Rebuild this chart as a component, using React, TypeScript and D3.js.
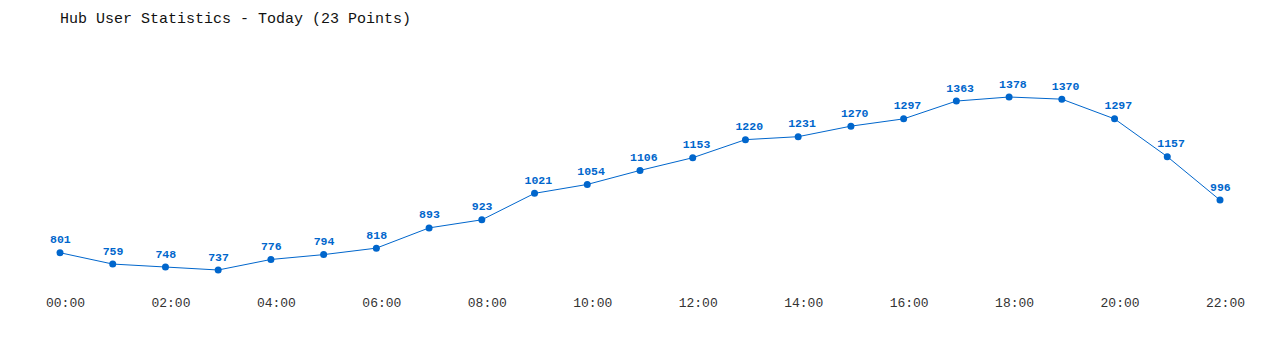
import React from "react";
import * as d3 from "d3";

const title = "Hub User Statistics - Today (23 Points)";
const hours = d3.range(0, 23);
const values = [801, 759, 748, 737, 776, 794, 818, 893, 923, 1021, 1054, 1106, 1153, 1220, 1231, 1270, 1297, 1363, 1378, 1370, 1297, 1157, 996];
const tickHours = [0, 2, 4, 6, 8, 10, 12, 14, 16, 18, 20, 22];

const W = 1280, H = 350;
const BLUE = "#0066cc";
const FONT = "'Liberation Mono', 'DejaVu Sans Mono', monospace";

export default function App() {
  const x = d3.scaleLinear().domain([0, 22]).range([60, 1220]);
  const y = d3.scaleLinear().domain([737, 1378]).range([270, 97]);
  const line = d3.line<number>().x((_, i) => x(hours[i])).y((d) => y(d));
  const fmt = (h: number) => String(h).padStart(2, "0") + ":00";
  return (
    <svg width={W} height={H} style={{ position: "absolute", left: 0, top: 0, background: "#fff" }}>
      <text x={60} y={23} fontFamily={FONT} fontSize={15} fill="#111">{title}</text>
      <path d={line(values) || ""} fill="none" stroke={BLUE} strokeWidth={1} />
      {values.map((v, i) => (
        <g key={i}>
          <circle cx={x(hours[i])} cy={y(v)} r={3.5} fill={BLUE} />
          <text x={x(hours[i]) - 10} y={y(v) - 9.5} fontFamily={FONT} fontSize={11.5} fontWeight="bold" fill={BLUE}>{v}</text>
        </g>
      ))}
      {tickHours.map((h) => (
        <text key={h} x={x(h) - 14} y={307} fontFamily={FONT} fontSize={13} fill="#333">{fmt(h)}</text>
      ))}
    </svg>
  );
}
